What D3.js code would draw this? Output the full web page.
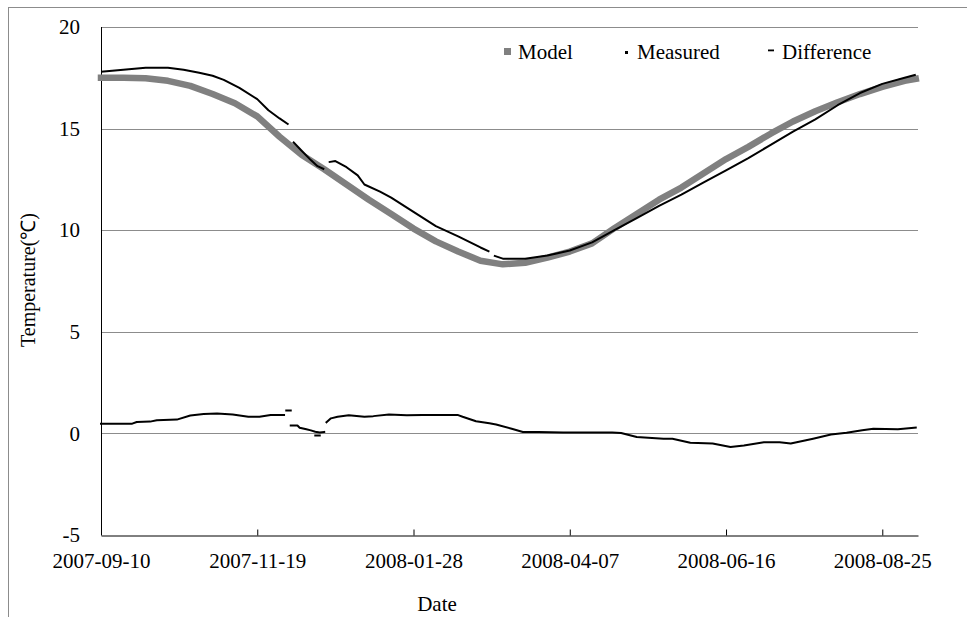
<!DOCTYPE html>
<html>
<head>
<meta charset="utf-8">
<script src="https://cdn.jsdelivr.net/npm/d3@7"></script>
<style>
  html, body { margin: 0; padding: 0; background: #fff; }
  svg { display: block; }
  svg text { font-family: "Liberation Serif", "Times New Roman", serif; }
</style>
</head>
<body>
<svg id="chart" width="967" height="617"></svg>
<script>
// ---- data ----
const xTickLabels = ["2007-09-10", "2007-11-19", "2008-01-28", "2008-04-07", "2008-06-16", "2008-08-25"];
const yTickValues = [-5, 0, 5, 10, 15, 20];
const seriesNames = ["Model", "Measured", "Difference"];

const modelDates = ["2007-09-10","2007-09-20","2007-09-30","2007-10-10","2007-10-20","2007-10-30","2007-11-09",
  "2007-11-19","2007-11-29","2007-12-09","2007-12-19","2007-12-29","2008-01-08","2008-01-18","2008-01-28",
  "2008-02-07","2008-02-17","2008-02-27","2008-03-08","2008-03-18","2008-03-28","2008-04-07","2008-04-17",
  "2008-04-27","2008-05-07","2008-05-17","2008-05-27","2008-06-06","2008-06-16","2008-06-26","2008-07-06",
  "2008-07-16","2008-07-26","2008-08-05","2008-08-15","2008-08-25","2008-09-04","2008-09-09"];
const modelTemps = [17.5, 17.5, 17.48, 17.35, 17.1, 16.7, 16.25, 15.6, 14.6, 13.7, 13.0, 12.25, 11.5, 10.8, 10.08,
  9.45, 8.95, 8.5, 8.32, 8.4, 8.65, 8.95, 9.35, 10.1, 10.8, 11.5, 12.1, 12.8, 13.5, 14.1, 14.75,
  15.35, 15.85, 16.3, 16.7, 17.05, 17.35, 17.45];

// null marks a break in the record
const measuredDates = ["2007-09-10","2007-09-15","2007-09-20","2007-09-30","2007-10-10","2007-10-17","2007-10-24",
  "2007-10-30","2007-11-04","2007-11-11","2007-11-19","2007-11-24","2007-11-29","2007-12-03","2007-12-04",
  "2007-12-05","2007-12-09","2007-12-13","2007-12-16","2007-12-19","2007-12-20",
  "2007-12-21","2007-12-24","2007-12-29","2008-01-03","2008-01-06","2008-01-13","2008-01-18","2008-01-28",
  "2008-02-07","2008-02-17","2008-02-27","2008-03-02","2008-03-03",
  "2008-03-04","2008-03-08","2008-03-18","2008-03-28","2008-04-07","2008-04-17","2008-04-27","2008-05-07",
  "2008-05-17","2008-05-27","2008-06-06","2008-06-16","2008-06-26","2008-07-06","2008-07-16","2008-07-26",
  "2008-08-05","2008-08-15","2008-08-25","2008-09-04","2008-09-09"];
const measuredTemps = [17.8, 17.85, 17.9, 18.0, 18.0, 17.9, 17.75,
  17.6, 17.4, 17.0, 16.45, 15.9, 15.5, 15.2, null,
  14.35, 13.9, 13.45, 13.15, 13.0, null,
  13.35, 13.4, 13.1, 12.7, 12.25, 11.9, 11.6, 10.9,
  10.2, 9.7, 9.15, 8.95, null,
  8.75, 8.6, 8.6, 8.75, 9.0, 9.4, 10.0, 10.6,
  11.2, 11.75, 12.35, 12.95, 13.55, 14.2, 14.85, 15.45,
  16.15, 16.75, 17.2, 17.5, 17.65];

const differenceDates = ["2007-09-10","2007-09-24","2007-09-26","2007-10-02","2007-10-05","2007-10-14","2007-10-20",
  "2007-10-26","2007-11-01","2007-11-08","2007-11-15","2007-11-20","2007-11-25","2007-12-01","2007-12-01",
  "2007-12-02","2007-12-04","2007-12-04",
  "2007-12-04","2007-12-07","2007-12-08","2007-12-11","2007-12-13","2007-12-15","2007-12-17","2007-12-19","2007-12-19",
  "2007-12-15","2007-12-17","2007-12-17",
  "2007-12-20","2007-12-22","2007-12-25","2007-12-30","2008-01-06","2008-01-10","2008-01-17","2008-01-25",
  "2008-02-01","2008-02-17","2008-02-19","2008-02-25","2008-03-02","2008-03-05","2008-03-12","2008-03-17",
  "2008-03-24","2008-04-04","2008-04-17","2008-04-26","2008-04-30","2008-05-07","2008-05-19","2008-05-23",
  "2008-05-31","2008-06-10","2008-06-18","2008-06-24","2008-07-03","2008-07-10","2008-07-15","2008-07-25",
  "2008-08-02","2008-08-09","2008-08-16","2008-08-21","2008-09-01","2008-09-09"];
const differenceValues = [0.48, 0.48, 0.56, 0.58, 0.65, 0.68, 0.88,
  0.95, 0.98, 0.93, 0.82, 0.82, 0.9, 0.9, null,
  1.13, 1.13, null,
  0.39, 0.39, 0.28, 0.2, 0.15, 0.08, 0.04, 0.07, null,
  -0.1, -0.1, null,
  0.55, 0.74, 0.82, 0.89, 0.82, 0.85, 0.93, 0.89,
  0.9, 0.9, 0.82, 0.6, 0.5, 0.44, 0.23, 0.07,
  0.07, 0.05, 0.05, 0.04, 0.02, -0.18, -0.26, -0.26,
  -0.46, -0.5, -0.67, -0.59, -0.43, -0.43, -0.5, -0.26,
  -0.05, 0.03, 0.15, 0.23, 0.2, 0.28];

// ---- setup ----
const parse = d3.timeParse("%Y-%m-%d");
const fmt = d3.timeFormat("%Y-%m-%d");
const zip = (dates, vals) => dates.map((d, i) => ({ date: parse(d), value: vals[i] }));
const FONT = "'Liberation Serif', 'Times New Roman', serif";

const svg = d3.select("#chart");
const plotLeft = 101, plotRight = 918, plotTop = 27, plotBottom = 535;

const x = d3.scaleTime()
  .domain([parse("2007-09-10"), parse("2008-09-10")])
  .range([plotLeft, plotRight]);
const y = d3.scaleLinear().domain([-5, 20]).range([plotBottom, plotTop]);

svg.append("rect").attr("width", 967).attr("height", 617).attr("fill", "#fff");

// outer frame
svg.append("rect")
  .attr("x", 8.5).attr("y", 7.5).attr("width", 1000).attr("height", 700)
  .attr("fill", "none").attr("stroke", "#8c8c8c").attr("stroke-width", 1);

// horizontal gridlines
svg.append("g").selectAll("line")
  .data(yTickValues.filter(v => v !== -5))
  .join("line")
  .attr("x1", plotLeft).attr("x2", plotRight)
  .attr("y1", d => Math.round(y(d)) + 0.5).attr("y2", d => Math.round(y(d)) + 0.5)
  .attr("stroke", "#8c8c8c").attr("stroke-width", 1);

// y axis
const yAxis = svg.append("g")
  .attr("transform", `translate(${plotLeft},0)`)
  .call(d3.axisLeft(y).tickValues(yTickValues).tickFormat(d => String(d)).tickSize(0).tickPadding(21));
yAxis.attr("font-family", FONT).attr("font-size", 21);
yAxis.select(".domain").remove();
yAxis.selectAll("text").attr("fill", "#000");
svg.append("line")
  .attr("x1", plotLeft + 0.5).attr("x2", plotLeft + 0.5).attr("y1", plotTop).attr("y2", plotBottom)
  .attr("stroke", "#000").attr("stroke-width", 1);

// x axis
const xAxis = svg.append("g")
  .attr("transform", `translate(0,${plotBottom + 0.5})`)
  .call(d3.axisBottom(x)
    .tickValues(xTickLabels.map(parse))
    .tickFormat(fmt)
    .tickSizeInner(-6).tickSizeOuter(0).tickPadding(18));
xAxis.attr("font-family", FONT).attr("font-size", 21);
xAxis.select(".domain").attr("stroke", "#000");
xAxis.selectAll(".tick line").attr("stroke", "#000");
xAxis.selectAll("text").attr("fill", "#000");

// series
const line = d3.line()
  .defined(d => d.value !== null)
  .x(d => x(d.date))
  .y(d => y(d.value));

svg.append("path")
  .datum(zip(modelDates, modelTemps))
  .attr("d", line)
  .attr("fill", "none").attr("stroke", "#808080").attr("stroke-width", 6.5)
  .attr("stroke-linecap", "square").attr("stroke-linejoin", "round");

svg.append("path")
  .datum(zip(measuredDates, measuredTemps))
  .attr("d", line)
  .attr("fill", "none").attr("stroke", "#000").attr("stroke-width", 2)
  .attr("stroke-linejoin", "round");

svg.append("path")
  .datum(zip(differenceDates, differenceValues))
  .attr("d", line)
  .attr("fill", "none").attr("stroke", "#000").attr("stroke-width", 2)
  .attr("stroke-linecap", "square").attr("stroke-linejoin", "round");

// axis titles
svg.append("text")
  .attr("x", 437).attr("y", 611).attr("text-anchor", "middle")
  .attr("font-family", FONT).attr("font-size", 21).attr("fill", "#000").text("Date");
svg.append("text")
  .attr("transform", "translate(35,280) rotate(-90)").attr("text-anchor", "middle")
  .attr("font-family", FONT).attr("font-size", 20).attr("fill", "#000").text("Temperature(℃)");

// legend
const legend = svg.append("g").attr("font-family", FONT).attr("font-size", 21);
const legendX = [518, 637, 782];
legend.append("rect").attr("x", 504).attr("y", 48).attr("width", 7).attr("height", 7).attr("fill", "#808080");
legend.append("rect").attr("x", 625).attr("y", 51).attr("width", 3).attr("height", 3).attr("fill", "#000");
legend.append("rect").attr("x", 768).attr("y", 49.5).attr("width", 6).attr("height", 1.8).attr("fill", "#000");
legend.selectAll("text")
  .data(seriesNames)
  .join("text")
  .attr("x", (d, i) => legendX[i]).attr("y", 59)
  .attr("fill", "#000")
  .text(d => d);
</script>
</body>
</html>
